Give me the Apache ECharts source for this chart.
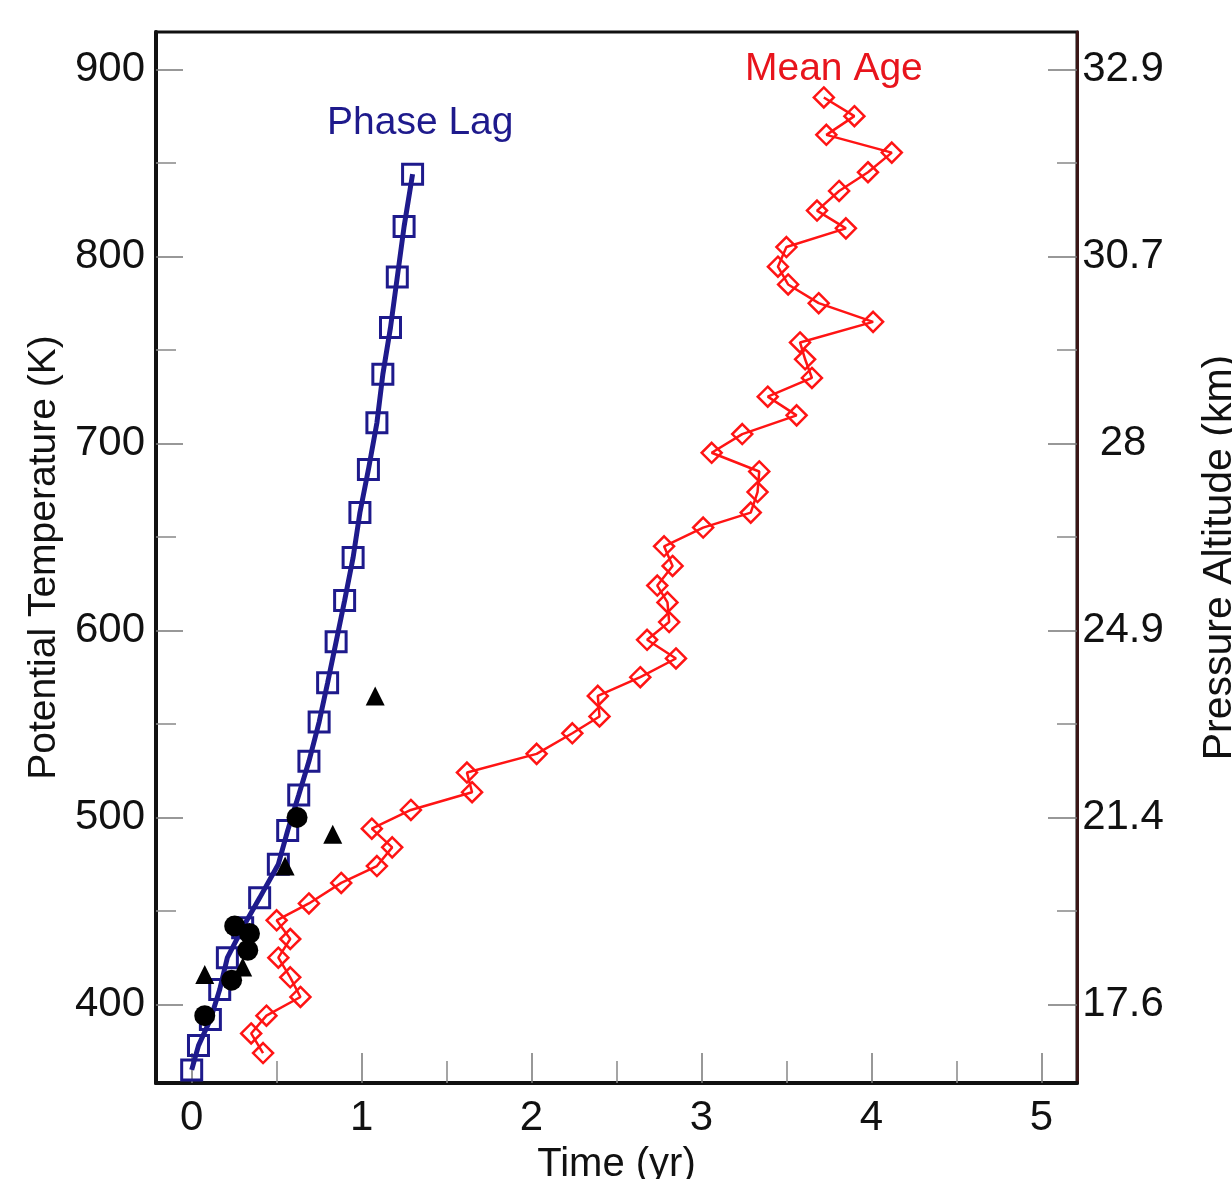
<!DOCTYPE html>
<html>
<head>
<meta charset="utf-8">
<script src="https://cdn.jsdelivr.net/npm/echarts@6.0.0/dist/echarts.min.js"></script>
<style>
  html, body { margin: 0; padding: 0; background: #fff; }
  #chart { width: 1232px; height: 1179px; }
</style>
</head>
<body>
<div id="chart"></div>
<script>
// Phase lag (yr) vs potential temperature (K)
const phaseLagTime = [0.00, 0.04, 0.11, 0.165, 0.21, 0.30, 0.40, 0.51, 0.565, 0.63, 0.69, 0.75,
  0.80, 0.85, 0.90, 0.95, 0.99, 1.04, 1.09, 1.125, 1.17, 1.21, 1.25, 1.30]
const phaseLagTheta = [365, 378, 392, 408, 425, 441, 457, 475, 493, 512, 530, 551,
  572, 594, 616, 639, 663, 686, 711, 737, 762, 789, 816, 844]

// Mean age (yr) vs potential temperature (K), top to bottom
const meanAgeTime = [3.72, 3.90, 3.735, 4.12, 3.98, 3.81, 3.68, 3.85, 3.50, 3.45, 3.51, 3.69, 4.01,
  3.58, 3.61, 3.65, 3.39, 3.56, 3.24, 3.06, 3.34, 3.33, 3.29, 3.01, 2.78, 2.83, 2.74, 2.80, 2.81,
  2.68, 2.85, 2.64, 2.39, 2.40, 2.24, 2.03, 1.62, 1.65, 1.29, 1.06, 1.18, 1.09, 0.88, 0.69, 0.50,
  0.58, 0.51, 0.58, 0.64, 0.44, 0.35, 0.42]
const meanAgeTheta = [885, 875, 865, 855.5, 845, 835, 824.5, 815, 805, 794.5, 785, 775, 765,
  754, 745, 735, 725, 715, 705, 695, 685, 674, 663, 655, 645, 634.5, 624, 615, 604.5,
  595, 585, 575, 565, 554, 545, 534, 524, 513.5, 504, 494, 484, 474, 465, 454, 445,
  435, 425, 414.5, 404, 394, 384.5, 374]

// observations
const circleTime = [0.253, 0.34, 0.33, 0.235, 0.077, 0.62]
const circleTheta = [442, 438, 429, 413, 394, 500]
const triangleTime = [1.08, 0.83, 0.55, 0.30, 0.077]
const triangleTheta = [565, 491, 474, 420, 416]

// ticks
const xMajorTicks = [0, 1, 2, 3, 4, 5]
const xMinorTicks = [0.5, 1.5, 2.5, 3.5, 4.5]
const thetaMajorTicks = [400, 500, 600, 700, 800, 900]
const thetaMinorTicks = [450, 550, 650, 750, 850]
const altitudeLabels = ['17.6', '21.4', '24.9', '28', '30.7', '32.9']

const blue = '#1e1a8c'
const red = '#ff1414'
const font = 'Liberation Sans, Arial, sans-serif'

const pairs = (xs, ys) => xs.map((x, i) => [x, ys[i]])

const xRange = { min: -0.21, max: 5.21 }
const yRange = { min: 358, max: 920 }

const chart = echarts.init(document.getElementById('chart'))
chart.setOption({
  backgroundColor: '#fff',
  animation: false,
  grid: {
    left: 156, right: 155, top: 32, bottom: 96,
    outerBoundsMode: 'none', containLabel: false,
    show: true, borderColor: '#111', borderWidth: 3, backgroundColor: '#fff'
  },
  xAxis: [{
    type: 'value', ...xRange, position: 'bottom',
    axisLine: { onZero: false, lineStyle: { color: '#111', width: 4 } },
    axisTick: { inside: true, length: 30, customValues: xMajorTicks, lineStyle: { color: '#777', width: 1.5 } },
    axisLabel: { customValues: xMajorTicks, margin: 14, fontSize: 42, color: '#111', fontFamily: font },
    splitLine: { show: false },
    name: 'Time (yr)', nameLocation: 'middle', nameGap: 62,
    nameTextStyle: { fontSize: 40, color: '#111', fontFamily: font }
  }, {
    type: 'value', ...xRange, position: 'bottom',
    axisLine: { show: false, onZero: false },
    axisTick: { inside: true, length: 22, customValues: xMinorTicks, lineStyle: { color: '#888', width: 1.5 } },
    axisLabel: { show: false },
    splitLine: { show: false }
  }],
  yAxis: [{
    type: 'value', ...yRange, position: 'left',
    axisLine: { show: true, onZero: false, lineStyle: { color: '#111', width: 4 } },
    axisTick: { inside: true, length: 27, customValues: thetaMajorTicks, lineStyle: { color: '#777', width: 1.5 } },
    axisLabel: { customValues: thetaMajorTicks, margin: 11, fontSize: 42, color: '#111', fontFamily: font },
    splitLine: { show: false },
    name: 'Potential Temperature (K)', nameLocation: 'middle', nameGap: 90,
    nameTextStyle: { fontSize: 39, color: '#111', fontFamily: font }
  }, {
    type: 'value', ...yRange, position: 'left',
    axisLine: { show: false, onZero: false },
    axisTick: { inside: true, length: 20, customValues: thetaMinorTicks, lineStyle: { color: '#888', width: 1.5 } },
    axisLabel: { show: false },
    splitLine: { show: false }
  }, {
    type: 'value', ...yRange, position: 'right',
    axisLine: { show: true, onZero: false, lineStyle: { color: '#3a1616', width: 3 } },
    axisTick: { inside: true, length: 29, customValues: thetaMajorTicks, lineStyle: { color: '#777', width: 1.5 } },
    axisLabel: {
      customValues: thetaMajorTicks, margin: 46, align: 'center', fontSize: 42, color: '#111', fontFamily: font,
      formatter: v => altitudeLabels[thetaMajorTicks.indexOf(v)] || ''
    },
    splitLine: { show: false },
    name: 'Pressure Altitude (km)', nameLocation: 'middle', nameGap: 122, nameRotate: 90,
    nameTextStyle: { fontSize: 41, color: '#111', fontFamily: font }
  }, {
    type: 'value', ...yRange, position: 'right',
    axisLine: { show: false, onZero: false },
    axisTick: { inside: true, length: 20, customValues: thetaMinorTicks, lineStyle: { color: '#888', width: 1.5 } },
    axisLabel: { show: false },
    splitLine: { show: false }
  }],
  graphic: [
    { type: 'text', left: 327, top: 104, style: { text: 'Phase Lag', fill: blue, font: '39px ' + font } },
    { type: 'text', left: 745, top: 50, style: { text: 'Mean Age', fill: '#e8141c', font: '39px ' + font } }
  ],
  series: [{
    name: 'Mean Age', type: 'line',
    data: pairs(meanAgeTime, meanAgeTheta),
    symbol: 'diamond', symbolSize: 20,
    lineStyle: { color: red, width: 2.5 },
    itemStyle: { color: 'transparent', borderColor: red, borderWidth: 2.5 },
    z: 3
  }, {
    name: 'Phase Lag', type: 'line',
    data: pairs(phaseLagTime, phaseLagTheta),
    symbol: 'rect', symbolSize: 20,
    lineStyle: { color: blue, width: 5 },
    itemStyle: { color: 'transparent', borderColor: blue, borderWidth: 3 },
    z: 4
  }, {
    name: 'circles', type: 'scatter',
    data: pairs(circleTime, circleTheta),
    symbol: 'circle', symbolSize: 21,
    itemStyle: { color: '#000', opacity: 1 },
    z: 5
  }, {
    name: 'triangles', type: 'scatter',
    data: pairs(triangleTime, triangleTheta),
    symbol: 'triangle', symbolSize: 19,
    itemStyle: { color: '#000', opacity: 1 },
    z: 5
  }]
})
</script>
</body>
</html>
